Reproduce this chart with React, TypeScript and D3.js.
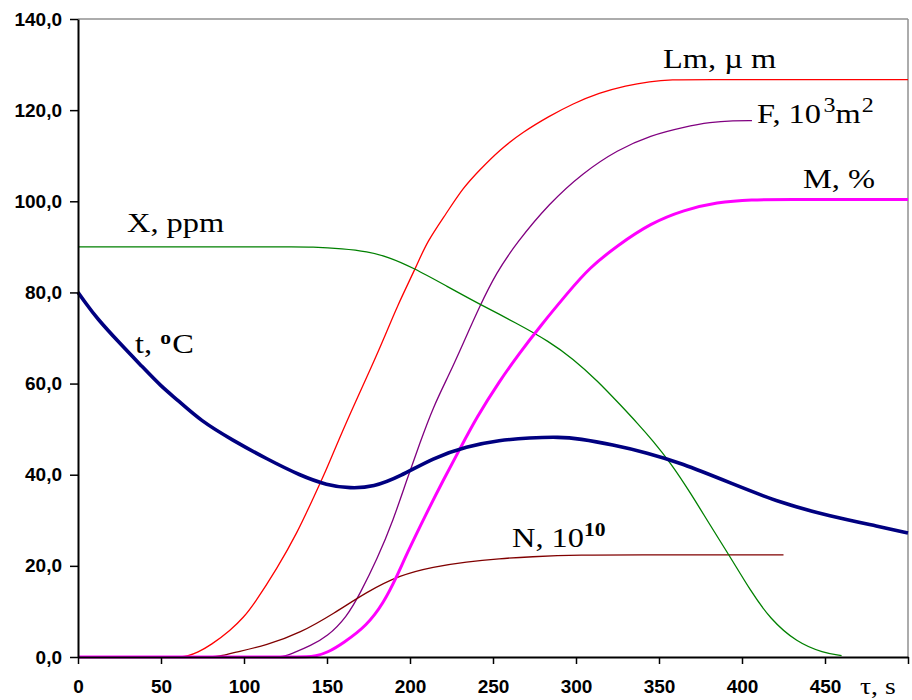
import React, { useEffect, useRef } from 'react';
import * as d3 from 'd3';

const W = 912;
const H = 700;

const tauTicks = [0, 50, 100, 150, 200, 250, 300, 350, 400, 450, 500];
const yTicks = [0, 20, 40, 60, 80, 100, 120, 140];

// t, °C
const tauTemp = [0, 5, 11, 25, 39, 50, 60, 74, 93, 114, 134, 150, 164, 178, 194, 214, 234, 254, 272, 290, 302, 322, 343, 363, 393, 423, 453, 483, 500];
const temp = [80, 77.5, 74.5, 68.9, 63.6, 59.4, 56.4, 51.8, 47.6, 43.4, 39.8, 37.7, 37, 37.3, 39.6, 43.7, 46.2, 47.6, 48.1, 48.3, 47.9, 46.6, 44.8, 42.6, 38.2, 33.8, 30.9, 28.6, 27.2];

// X, ppm
const tauX = [0, 60, 110, 130, 140, 160, 174, 187, 202, 222, 242, 264, 284, 298, 313, 327, 337, 346, 357, 369, 381, 393, 405, 417, 433, 449, 460];
const xppm = [90, 90, 90, 90, 90, 89.6, 89, 87.8, 85.4, 81.4, 77.4, 73.3, 69.2, 65.5, 60.6, 55.2, 51.3, 47.6, 42.6, 36, 28.8, 21.9, 14.6, 8.3, 3.2, 0.9, 0.3];

// Lm, µm
const tauLm = [0, 30, 55, 62, 66, 72, 80, 92, 100, 106, 120, 132, 142, 148, 154, 164, 176, 184, 192, 204, 210, 222, 232, 242, 254, 268, 284, 298, 314, 330, 345, 356, 380, 420, 460, 500];
const lm = [0, 0, 0, 0, 0.2, 1, 2.6, 5.9, 8.8, 11.6, 19.5, 27.2, 35.1, 39.8, 45, 53.5, 63, 69.6, 76.8, 85.8, 91, 97.4, 103, 106.9, 111.3, 115.2, 118.7, 121.4, 123.8, 125.4, 126.3, 126.7, 126.7, 126.7, 126.7, 126.7];

// F, 10^3 m^2
const tauF = [0, 60, 100, 115, 121, 125, 130, 140, 150, 162, 170, 180, 190, 198, 206, 214, 224, 232, 242, 252, 264, 284, 304, 325, 345, 365, 381, 395, 406];
const fArea = [0, 0, 0, 0, 0, 0.2, 0.9, 2.5, 4.4, 8.8, 14, 21.3, 30.1, 38.8, 47, 54.9, 62.3, 68.8, 77, 84.3, 90.8, 99.6, 106.2, 111.3, 114.5, 116.3, 117.4, 117.7, 117.7];

// M, %
const tauM = [0, 60, 110, 130, 138, 143, 150, 160, 174, 184, 192, 198, 210, 220, 230, 240, 254, 266, 278, 295, 308, 325, 345, 365, 385, 405, 430, 460, 500];
const mPct = [0, 0, 0, 0, 0, 0.2, 0.9, 3.1, 6.9, 11.8, 17.6, 22.6, 31.6, 38.8, 45.6, 52.5, 60.6, 66.7, 72.4, 79.9, 85.4, 90.3, 95.2, 98.1, 99.8, 100.4, 100.4, 100.4, 100.4];

// N, 10^10
const tauN = [0, 40, 70, 80, 86, 93, 114, 134, 154, 174, 194, 214, 234, 254, 272, 302, 340, 380, 425];
const nCount = [0, 0, 0, 0, 0.2, 0.9, 2.6, 5.3, 9.5, 14.3, 18, 19.8, 20.9, 21.6, 22, 22.4, 22.4, 22.4, 22.4];

export default function App() {
  const ref = useRef<SVGSVGElement>(null);

  useEffect(() => {
    const svg = d3.select(ref.current);
    svg.selectAll('*').remove();

    const x = d3.scaleLinear().domain([0, 500]).range([78, 908]);
    const y = d3.scaleLinear().domain([0, 140]).range([657, 19]);

    // plot frame (top & right, grey)
    svg.append('line').attr('x1', x(0)).attr('x2', x(500)).attr('y1', y(140)).attr('y2', y(140))
      .attr('stroke', '#909090').attr('stroke-width', 1.5);
    svg.append('line').attr('x1', x(500)).attr('x2', x(500)).attr('y1', y(140)).attr('y2', y(0))
      .attr('stroke', '#909090').attr('stroke-width', 1.5);

    const line = d3.line<[number, number]>()
      .x(d => x(d[0]))
      .y(d => y(d[1]))
      .curve(d3.curveBasis);

    const zip = (a: number[], b: number[]) => a.map((v, i) => [v, b[i]] as [number, number]);

    const series = [
      { d: zip(tauLm, lm), color: '#ff0000', w: 1.3 },
      { d: zip(tauF, fArea), color: '#800080', w: 1.3 },
      { d: zip(tauN, nCount), color: '#800000', w: 1.3 },
      { d: zip(tauX, xppm), color: '#008000', w: 1.3 },
      { d: zip(tauM, mPct), color: '#ff00ff', w: 3 },
      { d: zip(tauTemp, temp), color: '#000080', w: 3.6 },
    ];
    series.forEach(s => {
      svg.append('path').attr('d', line(s.d) as string)
        .attr('fill', 'none').attr('stroke', s.color).attr('stroke-width', s.w)
        .attr('stroke-linejoin', 'round');
    });

    const fmt = (d: number) => d.toFixed(1).replace('.', ',');
    const gy = svg.append('g').attr('transform', `translate(${x(0)},0)`)
      .call(d3.axisLeft(y).tickValues(yTicks).tickFormat(d => fmt(+d)).tickSize(8).tickSizeOuter(0).tickPadding(8));
    const gx = svg.append('g').attr('transform', `translate(0,${y(0)})`)
      .call(d3.axisBottom(x).tickValues(tauTicks).tickFormat(d => (+d === 500 ? '' : String(d))).tickSize(7).tickSizeOuter(0).tickPadding(16));

    [gx, gy].forEach(g => {
      g.select('.domain').attr('stroke', '#000').attr('stroke-width', 2);
      g.selectAll('.tick line').attr('stroke', '#000').attr('stroke-width', 1.5);
      g.selectAll('.tick text')
        .attr('fill', '#000')
        .attr('font-family', '"Liberation Sans", Arial, sans-serif')
        .attr('font-weight', 'bold')
        .attr('font-size', 19);
    });

    const serif = '"Liberation Serif", "Times New Roman", serif';
    const addLabel = (px: number, py: number) =>
      svg.append('text')
        .attr('transform', `translate(${px},${py}) scale(1.2,1)`)
        .attr('font-family', serif).attr('font-size', 27).attr('fill', '#000');

    addLabel(127, 232).text('X, ppm');

    const tl = addLabel(135, 353);
    tl.append('tspan').text('t, ');
    tl.append('tspan').attr('dy', -9).attr('font-size', 18).attr('font-weight', 'bold').text('o');
    tl.append('tspan').attr('dy', 9).attr('dx', 1).text('C');

    addLabel(663, 68).text('Lm, \u00b5 m');

    const fl = addLabel(757, 123);
    fl.append('tspan').text('F, 10');
    fl.append('tspan').attr('dy', -11).attr('dx', 2).attr('font-size', 20).text('3');
    fl.append('tspan').attr('dy', 11).text('m');
    fl.append('tspan').attr('dy', -11).attr('dx', 1).attr('font-size', 20).text('2');

    addLabel(803, 188).text('M, %');

    const nl = addLabel(512, 547);
    nl.append('tspan').text('N, 10');
    nl.append('tspan').attr('dy', -11).attr('font-size', 18).attr('font-weight', 'bold').text('10');

    svg.append('text')
      .attr('transform', `translate(860,694) scale(1.15,1)`)
      .attr('font-family', serif).attr('font-size', 24).attr('fill', '#000')
      .text('\u03c4, s');
  }, []);

  return (
    <svg
      ref={ref}
      width={W}
      height={H}
      style={{ position: 'absolute', left: 0, top: 0, background: '#fff' }}
    />
  );
}
